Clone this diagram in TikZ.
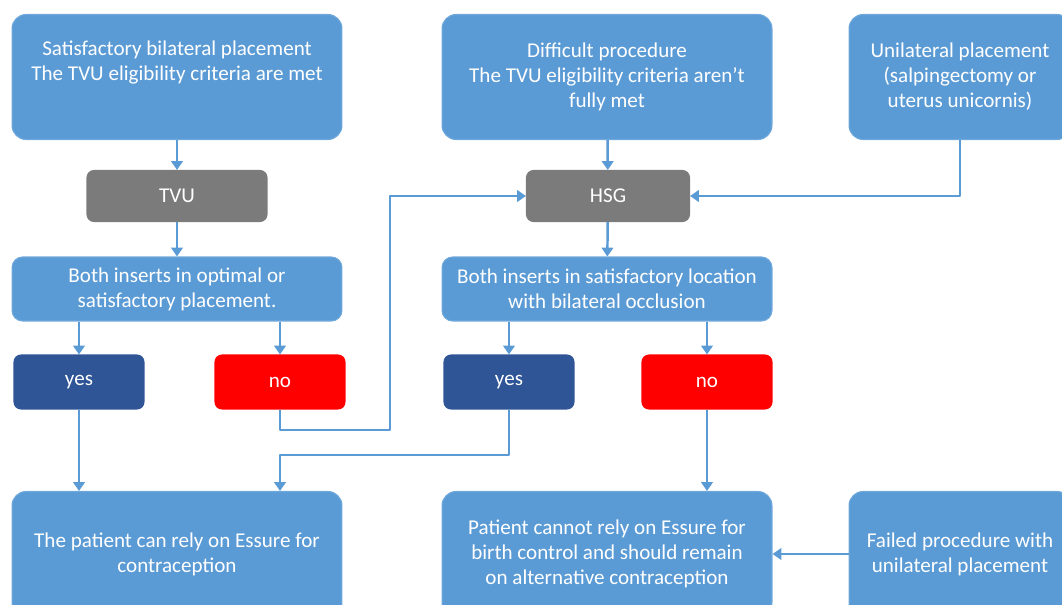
\documentclass[tikz,border=0pt]{standalone}
\usepackage{fontspec}
\setmainfont{Carlito}
\usetikzlibrary{arrows.meta}
\definecolor{boxblue}{HTML}{5B9BD5}
\definecolor{boxedge}{HTML}{6FA8DC}
\definecolor{boxgray}{HTML}{7B7B7B}
\definecolor{yesblue}{HTML}{2F5597}
\definecolor{nored}{HTML}{FF0000}
\begin{document}
\begin{tikzpicture}[x=0.02cm, y=-0.02cm, line join=round, >={Triangle[width=6.5pt,length=5pt]}]
 \tikzset{every node/.style={text=white, font=\fontsize{12}{14.2}\selectfont, align=center, draw=boxedge, line width=0.6pt, inner sep=2pt},
  bigbox/.style={fill=boxblue, rounded corners=8pt, minimum width=6.6cm, minimum height=2.5cm},
  sidebox/.style={fill=boxblue, rounded corners=8pt, minimum width=4.44cm, minimum height=2.5cm},
  askbox/.style={fill=boxblue, rounded corners=6pt, minimum width=6.6cm, minimum height=1.28cm},
  testbox/.style={fill=boxgray, draw=boxgray, rounded corners=4pt, minimum height=1.02cm},
  yesbox/.style={fill=yesblue, draw=yesblue, rounded corners=4pt, minimum width=2.6cm, minimum height=1.08cm},
  nobox/.style={fill=nored, draw=nored, rounded corners=4pt, minimum width=2.6cm, minimum height=1.08cm},
  flow/.style={->, draw=boxblue, line width=1.4pt}}
 \useasboundingbox (0,0) rectangle (1062,605);
 % top row
 \node[bigbox] (s1) at (177,77) {Satisfactory bilateral placement\\The TVU eligibility criteria are met\\ \strut};
 \node[bigbox] (s2) at (607,77) {Difficult procedure\\The TVU eligibility criteria aren’t\\fully met};
 \node[sidebox] (s3) at (960,77) {Unilateral placement\\(salpingectomy or\\uterus unicornis)};
 % tests
 \node[testbox, minimum width=3.6cm] (tvu) at (177,196) {TVU};
 \node[testbox, minimum width=3.26cm] (hsg) at (608,196) {HSG};
 \node[askbox] (b1) at (177,289) {Both inserts in optimal or\\satisfactory placement.};
 \node[askbox] (b2) at (607,289) {Both inserts in satisfactory location\\with bilateral occlusion};
 \node[yesbox] (y1) at (79,382) {yes};
 \node[nobox] (n1) at (280,382) {no};
 \node[yesbox] (y2) at (509,382) {yes};
 \node[nobox] (n2) at (707,382) {no};
 % results
 \node[bigbox] (r1) at (177,554) {The patient can rely on Essure for\\contraception};
 \node[bigbox] (r2) at (607,554) {Patient cannot rely on Essure for\\birth control and should remain\\on alternative contraception};
 \node[sidebox] (f3) at (960,554) {Failed procedure with\\unilateral placement};
 \coordinate (k1) at (390,430);
 \coordinate (k2) at (280,455);
 \draw[flow] (s1) -- (tvu);
 \draw[flow] (tvu) -- (b1);
 \draw[flow] (b1.south -| y1) -- (y1);
 \draw[flow] (b1.south -| n1) -- (n1);
 \draw[flow] (y1) -- (y1 |- r1.north);
 \draw[flow] (n1.south) |- (k1) |- (hsg.west);
 \draw[flow] (s2) -- (hsg);
 \draw[flow] (s3.south) |- (hsg.east);
 \draw[flow] (hsg) -- (b2);
 \draw[flow] (b2.south -| y2) -- (y2);
 \draw[flow] (b2.south -| n2) -- (n2);
 \draw[flow] (y2.south) |- (k2) -- (k2 |- r1.north);
 \draw[flow] (n2) -- (n2 |- r2.north);
 \draw[flow] (f3.west) -- (r2.east);
\end{tikzpicture}
\end{document}
